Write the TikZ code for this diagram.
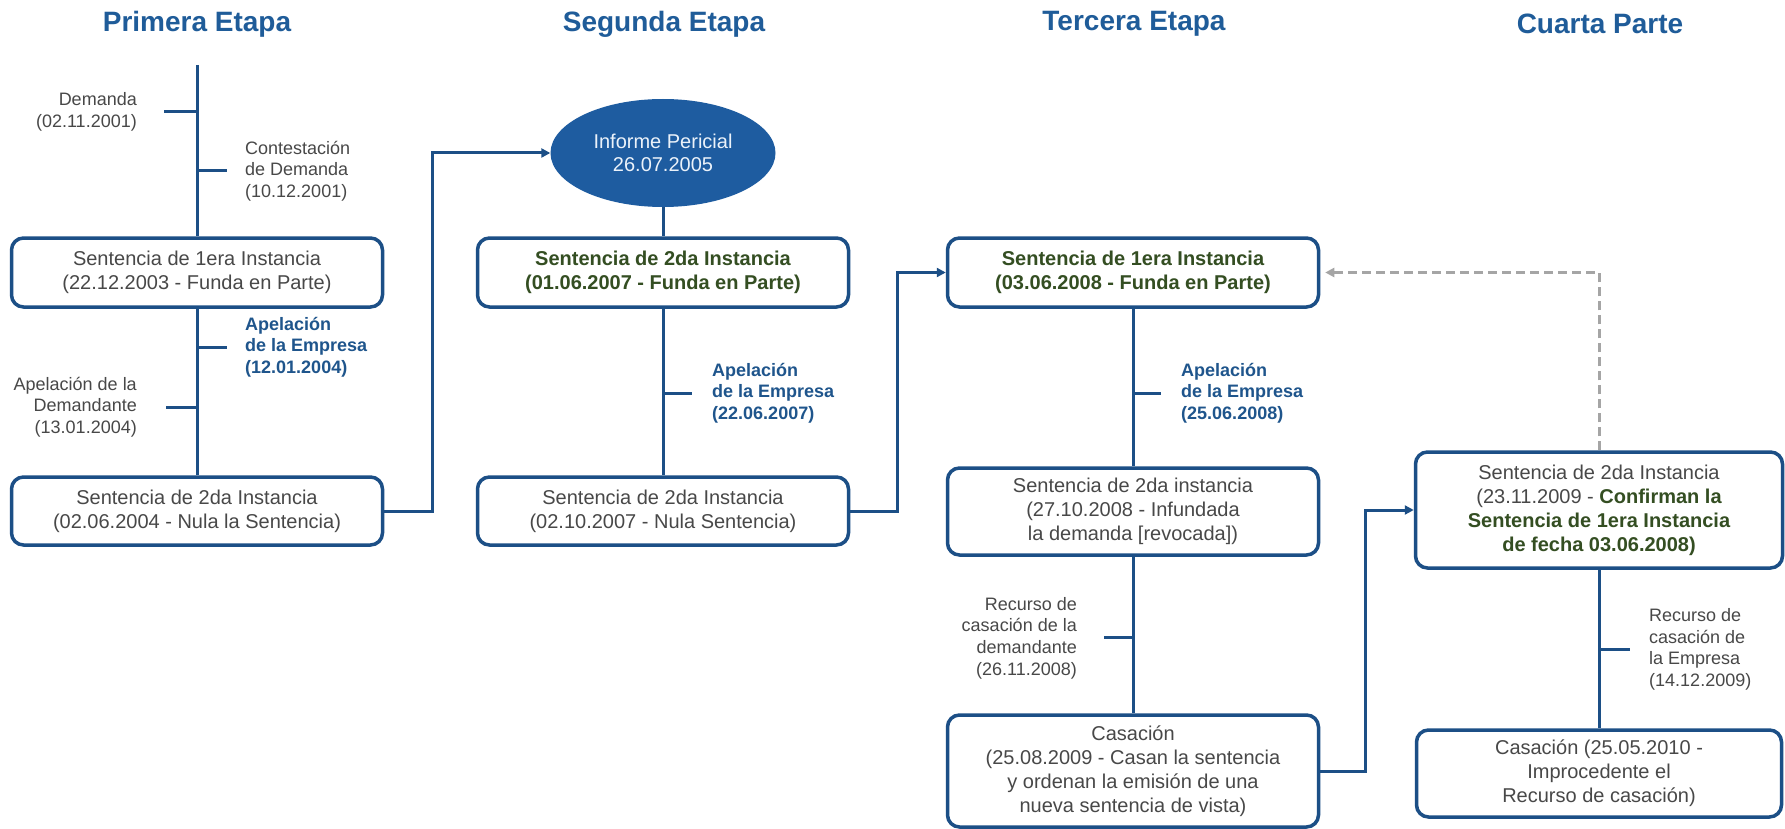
\documentclass[tikz,border=0pt]{standalone}
\usepackage{fontspec}
\setmainfont{Liberation Sans}
\usetikzlibrary{arrows.meta,shapes.geometric}
\definecolor{lineblue}{RGB}{28,79,134}
\definecolor{titleblue}{RGB}{31,92,153}
\definecolor{ellblue}{RGB}{30,92,160}
\definecolor{txtgray}{RGB}{72,72,72}
\definecolor{boldgreen}{RGB}{52,78,34}
\definecolor{lblblue}{RGB}{31,85,140}
\definecolor{dashgray}{RGB}{165,165,165}
\begin{document}
\begin{tikzpicture}[x=1pt,y=-1pt,
  box/.style={draw=lineblue, line width=3.5pt, rounded corners=12pt, fill=white,
    minimum width=371pt, inner sep=0pt, align=center, text=txtgray,
    font=\fontsize{20}{24}\selectfont},
  bbox/.style={box, text=boldgreen, font=\fontsize{20}{24}\selectfont\bfseries},
  conn/.style={draw=lineblue, line width=3pt},
  arr/.style={conn, -{Triangle[length=9pt,width=9pt]}},
  lbl/.style={inner sep=0pt, text=txtgray, font=\fontsize{18}{21.6}\selectfont},
  blbl/.style={lbl, text=lblblue, font=\fontsize{18}{21.6}\selectfont\bfseries},
  ttl/.style={inner sep=0pt, text=titleblue, font=\fontsize{28}{32}\selectfont\bfseries}]
\useasboundingbox (0,0) rectangle (1785,829);
\fill[white] (0,0) rectangle (1785,829);

% titles
\node[ttl] (ti1) at (197,24) {Primera Etapa};
\node[ttl] (ti2) at (664,24) {Segunda Etapa};
\node[ttl] (ti3) at (1134,24) {Tercera Etapa};
\node[ttl] (ti4) at (1600,24) {Cuarta Parte};

% ---------- Stage 1
\node[box, minimum height=69pt] (b1) at (197,272.5) {Sentencia de 1era Instancia\\(22.12.2003 - Funda en Parte)};
\node[box, minimum height=68pt] (b2) at (197,511) {Sentencia de 2da Instancia\\(02.06.2004 - Nula la Sentencia)};
\coordinate (top1) at (197,65);
\draw[conn] (top1) -- (b1.north);
\draw[conn] (b1.south) -- (b2.north);
\coordinate (t1a) at (197,112); \coordinate (t1b) at (164,112);
\coordinate (t2a) at (197,171); \coordinate (t2b) at (227,171);
\coordinate (t3a) at (197,347); \coordinate (t3b) at (227,347);
\coordinate (t4a) at (197,407); \coordinate (t4b) at (166,407);
\draw[conn] (t1a) -- (t1b);
\draw[conn] (t2a) -- (t2b);
\draw[conn] (t3a) -- (t3b);
\draw[conn] (t4a) -- (t4b);
\node[lbl, anchor=east, align=right] (l1) at (137,112) {Demanda\\(02.11.2001)};
\node[lbl, anchor=west, align=left] (l2) at (245,171) {Contestación\\de Demanda\\(10.12.2001)};
\node[blbl, anchor=west, align=left] (l3) at (245,347) {Apelación\\de la Empresa\\(12.01.2004)};
\node[lbl, anchor=east, align=right] (l4) at (137,407) {Apelación de la\\Demandante\\(13.01.2004)};

% ---------- Stage 2
\node[ellipse, fill=ellblue, minimum width=225pt, minimum height=108pt, inner sep=0pt,
  align=center, text={rgb,255:red,235;green,242;blue,250}, font=\fontsize{20}{23}\selectfont] (ell) at (663,153)
  {Informe Pericial\\26.07.2005};
\node[bbox, minimum height=69pt] (b3) at (663,272.5) {Sentencia de 2da Instancia\\(01.06.2007 - Funda en Parte)};
\node[box, minimum height=68pt] (b4) at (663,511) {Sentencia de 2da Instancia\\(02.10.2007 - Nula Sentencia)};
\draw[arr] (b2.east) -- ++(48,0) |- (ell.west);
\draw[conn] (ell.south) -- (b3.north);
\draw[conn] (b3.south) -- (b4.north);
\coordinate (t5a) at (663,393); \coordinate (t5b) at (692,393);
\draw[conn] (t5a) -- (t5b);
\node[blbl, anchor=west, align=left] (l5) at (712,393) {Apelación\\de la Empresa\\(22.06.2007)};

% ---------- Stage 3
\node[bbox, minimum height=69pt] (b5) at (1133,272.5) {Sentencia de 1era Instancia\\(03.06.2008 - Funda en Parte)};
\node[box, minimum height=87pt] (b6) at (1133,511.5) {Sentencia de 2da instancia\\(27.10.2008 - Infundada\\la demanda [revocada])};
\node[box, minimum height=112pt] (b8) at (1133,771) {Casación\\(25.08.2009 - Casan la sentencia\\y ordenan la emisión de una\\nueva sentencia de vista)};
\draw[arr] (b4.east) -- ++(47,0) |- (b5.west);
\draw[conn] (b5.south) -- (b6.north);
\draw[conn] (b6.south) -- (b8.north);
\coordinate (t6a) at (1133,393); \coordinate (t6b) at (1161,393);
\coordinate (t7a) at (1133,637); \coordinate (t7b) at (1104,637);
\draw[conn] (t6a) -- (t6b);
\draw[conn] (t7a) -- (t7b);
\node[blbl, anchor=west, align=left] (l6) at (1181,393) {Apelación\\de la Empresa\\(25.06.2008)};
\node[lbl, anchor=east, align=right] (l7) at (1077,638) {Recurso de\\casación de la\\demandante\\(26.11.2008)};

% ---------- Stage 4
\node[box, minimum width=367pt, minimum height=116pt] (b7) at (1599,510)
  {Sentencia de 2da Instancia\\(23.11.2009 - {\bfseries\color{boldgreen}Confirman la}\\{\bfseries\color{boldgreen}Sentencia de 1era Instancia}\\{\bfseries\color{boldgreen}de fecha 03.06.2008)}};
\node[box, minimum width=365pt, minimum height=87pt] (b9) at (1599,773.5) {Casación (25.05.2010 -\\Improcedente el\\Recurso de casación)};
\draw[arr] (b8.east) -- ++(45,0) |- (b7.west);
\draw[draw=dashgray, line width=3pt, dash pattern=on 9pt off 5pt, -{Triangle[length=9pt,width=9pt]}] (b7.north) |- ([xshift=5pt]b5.east);
\draw[conn] (b7.south) -- (b9.north);
\coordinate (t8a) at (1599,649); \coordinate (t8b) at (1630,649);
\draw[conn] (t8a) -- (t8b);
\node[lbl, anchor=west, align=left] (l8) at (1649,649.5) {Recurso de\\casación de\\la Empresa\\(14.12.2009)};
\end{tikzpicture}
\end{document}
